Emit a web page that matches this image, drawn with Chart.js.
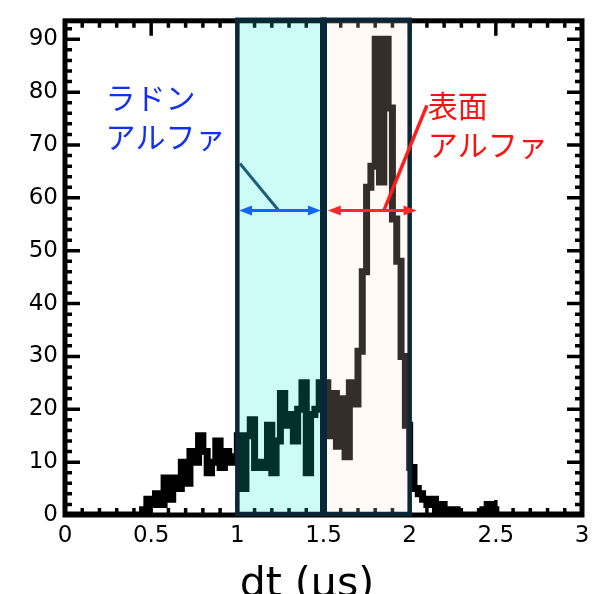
<!DOCTYPE html>
<html>
<head>
<meta charset="utf-8">
<script src="https://cdn.jsdelivr.net/npm/chart.js@4.4.0/dist/chart.umd.min.js"></script>
<style>
  html, body { margin: 0; padding: 0; background: #fff; }
</style>
</head>
<body>
<canvas id="hist" width="603" height="594"></canvas>
<script>
// histogram of dt, bins of 0.025 us starting at 0
const binWidth = 0.025;
const counts = [
  0, 0, 0, 0, 0, 0, 0, 0, 0, 0,
  0, 0, 0, 0, 0, 0, 0, 0, 1, 3,
  2, 4, 2, 7, 3, 7, 5, 10, 6, 12,
  10, 15, 12, 8, 10, 14, 9, 12, 10, 11,
  15, 5, 15, 18, 9, 10, 9, 17, 8, 14,
  23, 17, 19, 14, 20, 25, 8, 19, 20, 25,
  25, 15, 23, 13, 22, 11, 25, 21, 31, 46,
  62, 66, 90, 63, 90, 77, 56, 48, 30, 17,
  9, 5, 4, 3, 2, 3, 1, 2, 1, 0,
  1, 0, 0, 0, 0, 0, 0, 1, 2, 1,
  0, 0, 0, 0, 0, 0, 0, 0, 0, 0,
  0, 0, 0, 0, 0, 0, 0, 0, 0, 0
];
const xTicks = [0, 0.5, 1, 1.5, 2, 2.5, 3];
const yTicks = [0, 10, 20, 30, 40, 50, 60, 70, 80, 90];
const xTitle = 'dt (μs)';
const radonLabel = ['ラドン', 'アルファ'];
const surfaceLabel = ['表面', 'アルファ'];
const radonRange = [1.0, 1.5];
const surfaceRange = [1.5, 2.0];

// step points at left bin edges, last point closes the final bin
const points = counts.map((c, i) => ({ x: +(i * binWidth).toFixed(3), y: c }));
points.push({ x: counts.length * binWidth, y: counts[counts.length - 1] });

const tickFont = { family: '"DejaVu Sans"', size: 23 };

function arrow(ctx, x1, x2, y, color) {
  ctx.strokeStyle = color;
  ctx.fillStyle = color;
  ctx.lineWidth = 3;
  ctx.beginPath();
  ctx.moveTo(x1 + 8, y);
  ctx.lineTo(x2 - 8, y);
  ctx.stroke();
  ctx.beginPath();
  ctx.moveTo(x1, y); ctx.lineTo(x1 + 13, y - 5); ctx.lineTo(x1 + 13, y + 5); ctx.closePath();
  ctx.fill();
  ctx.beginPath();
  ctx.moveTo(x2, y); ctx.lineTo(x2 - 13, y - 5); ctx.lineTo(x2 - 13, y + 5); ctx.closePath();
  ctx.fill();
}

const framePlugin = {
  id: 'frame',
  beforeDatasetsDraw(chart) {
    const { ctx, chartArea: a, scales: { x, y } } = chart;
    ctx.save();
    ctx.strokeStyle = '#000';
    ctx.lineWidth = 3.5;
    ctx.beginPath();
    for (let k = 0; k <= 30; k++) {
      const px = x.getPixelForValue(k / 10);
      const len = k % 5 === 0 ? 15 : 7;
      ctx.moveTo(px, a.bottom); ctx.lineTo(px, a.bottom - len);
      ctx.moveTo(px, a.top); ctx.lineTo(px, a.top + len);
    }
    for (let v = 0; v <= 92; v += 2) {
      const py = y.getPixelForValue(v);
      const len = v % 10 === 0 ? 15 : 7;
      ctx.moveTo(a.left, py); ctx.lineTo(a.left + len, py);
      ctx.moveTo(a.right, py); ctx.lineTo(a.right - len, py);
    }
    ctx.stroke();
    ctx.lineWidth = 5;
    ctx.strokeRect(a.left, a.top, a.right - a.left, a.bottom - a.top);
    ctx.restore();
  },
  afterDatasetsDraw(chart) {
    const { ctx, chartArea: a, scales: { x, y } } = chart;
    ctx.save();
    // shaded windows, drawn over the histogram
    const boxes = [
      { r: radonRange, fill: 'rgba(0, 240, 205, 0.2)' },
      { r: surfaceRange, fill: 'rgba(255, 228, 212, 0.2)' }
    ];
    boxes.forEach(b => {
      const x1 = x.getPixelForValue(b.r[0]);
      const x2 = x.getPixelForValue(b.r[1]);
      ctx.fillStyle = b.fill;
      ctx.fillRect(x1, a.top - 2, x2 - x1, a.bottom - a.top + 2);
    });
    ctx.strokeStyle = '#0b2636';
    ctx.lineWidth = 4.5;
    boxes.forEach(b => {
      const x1 = x.getPixelForValue(b.r[0]);
      const x2 = x.getPixelForValue(b.r[1]);
      ctx.strokeRect(x1, a.top - 1, x2 - x1, a.bottom - a.top);
    });
    ctx.lineWidth = 7;
    ctx.beginPath();
    ctx.moveTo(x.getPixelForValue(radonRange[1]), a.top - 3);
    ctx.lineTo(x.getPixelForValue(radonRange[1]), a.bottom);
    ctx.stroke();

    // annotations
    const ay = y.getPixelForValue(57.6);
    ctx.lineWidth = 3;
    ctx.strokeStyle = '#1b5f7a';
    ctx.beginPath();
    ctx.moveTo(x.getPixelForValue(1.015), y.getPixelForValue(66.5));
    ctx.lineTo(x.getPixelForValue(1.24), ay);
    ctx.stroke();
    arrow(ctx, x.getPixelForValue(1.01), x.getPixelForValue(1.485), ay, '#1466f2');

    ctx.strokeStyle = '#ff1e1e';
    ctx.lineWidth = 3.5;
    ctx.beginPath();
    ctx.moveTo(x.getPixelForValue(1.85), ay);
    ctx.lineTo(x.getPixelForValue(2.1), y.getPixelForValue(77.5));
    ctx.stroke();
    arrow(ctx, x.getPixelForValue(1.525), x.getPixelForValue(2.04), ay, '#ff2828');

    ctx.font = '30px "Noto Sans CJK JP"';
    ctx.textBaseline = 'middle';
    ctx.textAlign = 'left';
    ctx.fillStyle = '#1230f2';
    ctx.fillText(radonLabel[0], x.getPixelForValue(0.235), y.getPixelForValue(79));
    ctx.fillText(radonLabel[1], x.getPixelForValue(0.235), y.getPixelForValue(71.5));
    ctx.fillStyle = '#ff1010';
    ctx.fillText(surfaceLabel[0], x.getPixelForValue(2.105), y.getPixelForValue(77.5));
    ctx.fillText(surfaceLabel[1], x.getPixelForValue(2.105), y.getPixelForValue(70));

    // axis title, cut by the bottom edge as in the original
    ctx.fillStyle = '#000';
    ctx.font = '41px "DejaVu Sans"';
    ctx.textAlign = 'center';
    ctx.textBaseline = 'alphabetic';
    ctx.fillText(xTitle, 307, 596);
    ctx.restore();
  }
};

new Chart(document.getElementById('hist'), {
  type: 'line',
  data: {
    datasets: [{
      data: points,
      stepped: 'before',
      borderColor: '#000',
      borderWidth: 7,
      borderJoinStyle: 'miter',
      borderCapStyle: 'butt',
      pointRadius: 0,
      fill: false
    }]
  },
  options: {
    responsive: false,
    devicePixelRatio: 1,
    animation: false,
    layout: { padding: { left: 0, right: 21, top: 10, bottom: 0 } },
    plugins: { legend: { display: false }, tooltip: { enabled: false } },
    scales: {
      x: {
        type: 'linear',
        min: 0,
        max: 3,
        afterBuildTicks: s => { s.ticks = xTicks.map(v => ({ value: v })); },
        afterFit: s => { s.height = 79; },
        grid: { display: false, drawTicks: false },
        border: { display: false },
        ticks: { font: tickFont, color: '#000', padding: 7, maxRotation: 0, autoSkip: false, callback: v => String(v) }
      },
      y: {
        min: 0,
        max: 93.5,
        afterBuildTicks: s => { s.ticks = yTicks.map(v => ({ value: v })); },
        afterFit: s => { s.width = 65; },
        grid: { display: false, drawTicks: false },
        border: { display: false },
        ticks: { font: tickFont, color: '#000', padding: 7, autoSkip: false }
      }
    }
  },
  plugins: [framePlugin]
});
</script>
</body>
</html>
